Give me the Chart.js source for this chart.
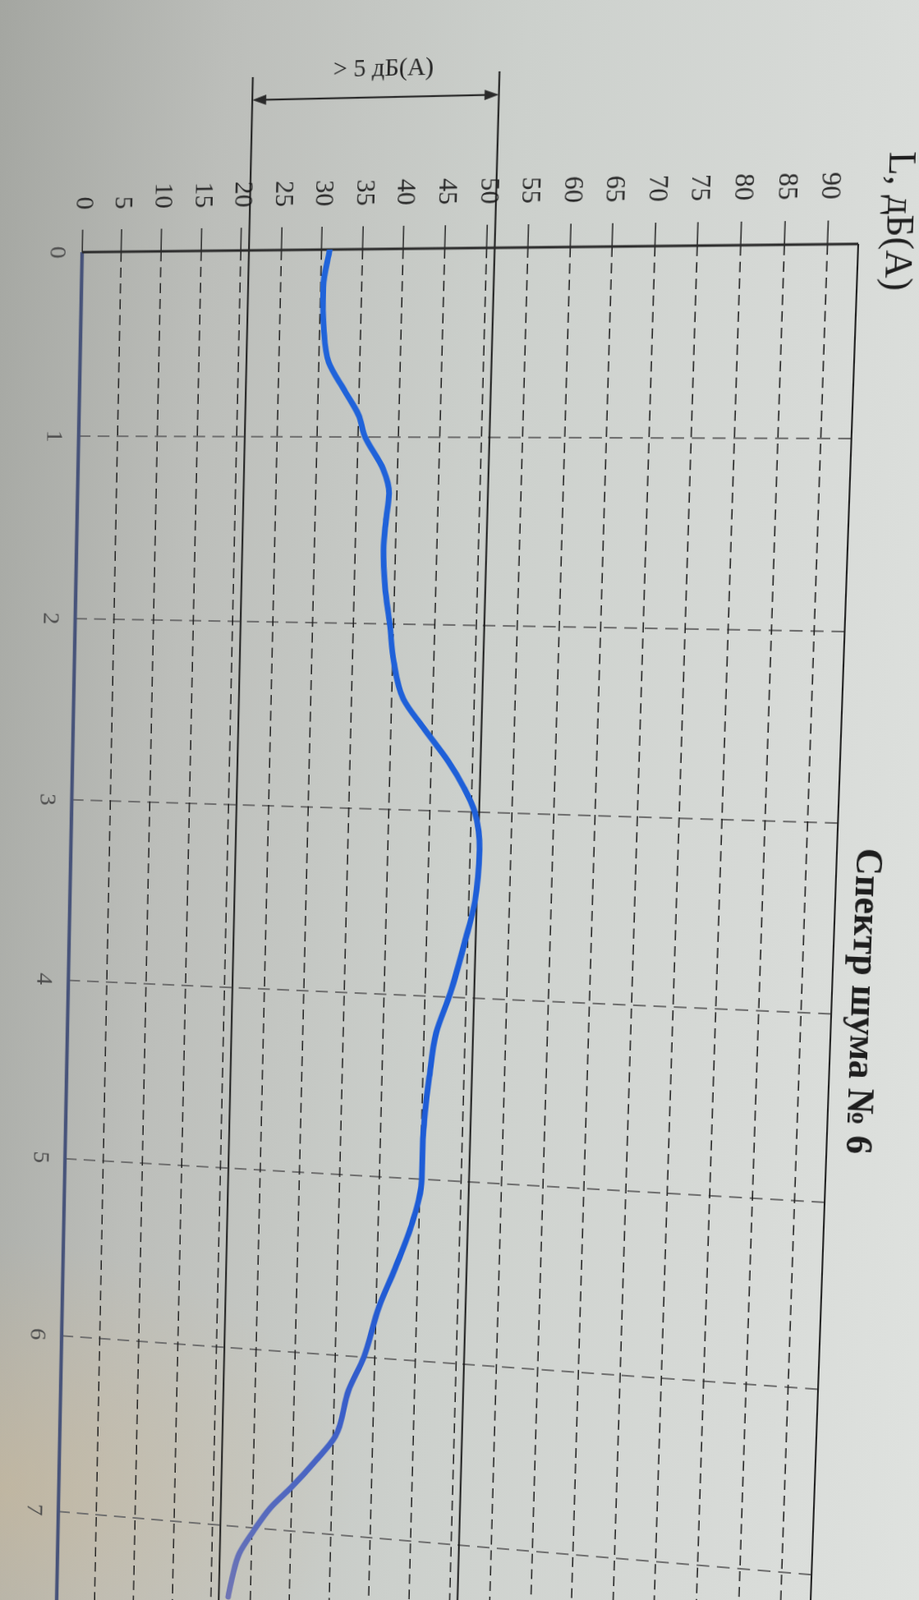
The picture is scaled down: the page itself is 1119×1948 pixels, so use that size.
<!DOCTYPE html>
<html lang="ru">
<head>
<meta charset="utf-8">
<title>Спектр шума № 6</title>
<script src="https://cdn.jsdelivr.net/npm/chart.js@4.4.1/dist/chart.umd.min.js"></script>
<style>
  html, body { margin: 0; padding: 0; overflow: hidden; }
  body {
    width: 1119px; height: 1948px; position: relative;
    background:
      radial-gradient(ellipse 55% 22% at 0% 93%, rgba(205, 184, 148, 0.5), rgba(205, 184, 148, 0) 70%),
      linear-gradient(95deg, #a4a6a1 0%, #bcbeba 22%, #ccd0cc 50%, #d7dad7 80%, #dfe2df 100%);
  }
  /* the sheet is photographed on its side and a little skewed; the transform is set below */
  #chart {
    position: absolute; left: 0; top: 0; width: 2000px; height: 1119px;
    transform-origin: 0 0; transform: translate(1119px, 0) rotate(90deg);
  }
</style>
</head>
<body>
<canvas id="chart" width="2000" height="1119"></canvas>
<script>
const freqs = [0, 0.2, 0.42, 0.6, 0.75, 0.88, 1.0, 1.17, 1.3, 1.45, 1.6, 1.8, 2.0, 2.2, 2.4, 2.55,
  2.73, 2.87, 3.0, 3.2, 3.48, 3.7, 3.98, 4.2, 4.44, 4.64, 4.84, 5.0, 5.24, 5.5, 5.72, 6.0,
  6.19, 6.45, 6.6, 6.75, 6.88, 7.02, 7.15, 7.28, 7.4];
const levels = [31.0, 30.3, 30.5, 31.2, 33.2, 35.0, 35.9, 38.2, 39.0, 38.7, 38.5, 38.8, 39.5, 40.1, 41.4, 43.9,
  47.1, 49.1, 50.5, 51.2, 50.8, 49.7, 48.1, 46.5, 45.8, 45.4, 45.2, 45.2, 44.2, 42.2, 40.3, 38.6,
  36.8, 35.3, 32.8, 30.0, 27.3, 25.2, 23.5, 22.7, 22.2];
const freqTicks = [0, 1, 2, 3, 4, 5, 6, 7];
const levelTicks = [0, 5, 10, 15, 20, 25, 30, 35, 40, 45, 50, 55, 60, 65, 70, 75, 80, 85, 90];
const limitLines = [21, 51];
const limitLabel = "> 5 дБ(А)";
const axisTitle = "L, дБ(А)";
const chartTitle = "Спектр шума № 6";

// where the plot corners sit on the photographed page: [freq, level, pageX, pageY]
const sheetCorners = [
  [0, 0, 100, 307],
  [0, 93.5, 1045, 297],
  [7, 0, 71, 1840],
  [7, 93.5, 988, 1917],
];

const serif = "'Liberation Serif', 'DejaVu Serif', serif";
const canvas = document.getElementById("chart");

const line = (ctx, x1, y1, x2, y2, color, width) => {
  ctx.strokeStyle = color;
  ctx.lineWidth = width;
  ctx.setLineDash([]);
  ctx.beginPath();
  ctx.moveTo(x1, y1);
  ctx.lineTo(x2, y2);
  ctx.stroke();
};

const extras = {
  id: "extras",
  beforeDatasetsDraw(chart) {
    const { ctx, chartArea: a, scales: { x, y } } = chart;
    ctx.save();
    line(ctx, a.left, a.top, a.right, a.top, "#232323", 2);
    limitLines.forEach((v) => {
      const py = y.getPixelForValue(v);
      line(ctx, a.left - 205, py, a.right, py, "#161616", 2);
    });
    const y0 = y.getPixelForValue(0);
    line(ctx, a.left, y0, a.right, y0, "#47537a", 4.5);
    const x0 = x.getPixelForValue(0);
    line(ctx, x0, a.top, x0, a.bottom, "#2b2b2b", 3);
    ctx.restore();
  },
  afterDraw(chart) {
    const { ctx, chartArea: a, scales: { x, y } } = chart;
    ctx.save();
    ctx.fillStyle = "#1e1e1e";
    ctx.textBaseline = "alphabetic";

    ctx.font = "44px " + serif;
    ctx.textAlign = "left";
    ctx.fillText(axisTitle, a.left - 104, a.top - 32);

    ctx.font = "bold 44px " + serif;
    ctx.textAlign = "center";
    ctx.fillText(chartTitle, x.getPixelForValue(3.93), a.top - 23);

    // double arrow between the two limit lines
    const ax = a.left - 178;
    const y1 = y.getPixelForValue(limitLines[0]);
    const y2 = y.getPixelForValue(limitLines[1]);
    line(ctx, ax, y1 - 12, ax, y2 + 12, "#2a2a2a", 2.2);
    ctx.fillStyle = "#2a2a2a";
    ctx.beginPath();
    ctx.moveTo(ax, y1); ctx.lineTo(ax - 6, y1 - 17); ctx.lineTo(ax + 6, y1 - 17);
    ctx.closePath(); ctx.fill();
    ctx.beginPath();
    ctx.moveTo(ax, y2); ctx.lineTo(ax - 6, y2 + 17); ctx.lineTo(ax + 6, y2 + 17);
    ctx.closePath(); ctx.fill();

    ctx.fillStyle = "#262626";
    ctx.translate(a.left - 211, y.getPixelForValue(37));
    ctx.rotate(-Math.PI / 2);
    ctx.font = "30px " + serif;
    ctx.textAlign = "center";
    ctx.textBaseline = "middle";
    ctx.fillText(limitLabel, 0, 0);
    ctx.restore();
  },
};

const chart = new Chart(canvas, {
  type: "line",
  data: {
    datasets: [
      {
        data: freqs.map((f, i) => ({ x: f, y: levels[i] })),
        borderColor: (c) => {
          const { ctx, chartArea } = c.chart;
          if (!chartArea) return "#1f62d8";
          const g = ctx.createLinearGradient(chartArea.left, 0, chartArea.right, 0);
          g.addColorStop(0, "#2064da");
          g.addColorStop(0.72, "#1d5bd6");
          g.addColorStop(0.83, "#3a5ec8");
          g.addColorStop(0.97, "#6f75b4");
          return g;
        },
        borderWidth: 7,
        borderCapStyle: "round",
        borderJoinStyle: "round",
        cubicInterpolationMode: "monotone",
        pointRadius: 0,
        fill: false,
      },
    ],
  },
  options: {
    responsive: false,
    animation: false,
    devicePixelRatio: 1,
    layout: { padding: { left: 185, top: 104, right: 0, bottom: 0 } },
    scales: {
      x: {
        type: "linear",
        min: 0,
        max: 7.63,
        afterBuildTicks: (s) => { s.ticks = freqTicks.map((v) => ({ value: v })); },
        afterFit: (s) => { s.height = 88; },
        grid: { color: "#6e6e6e", lineWidth: 2, drawTicks: false },
        border: { display: false, dash: [15, 9] },
        ticks: {
          padding: 14,
          color: "#4d4d4d",
          font: { family: serif, size: 30 },
          maxRotation: 0,
        },
      },
      y: {
        type: "linear",
        min: 0,
        max: 93.5,
        afterBuildTicks: (s) => { s.ticks = levelTicks.map((v) => ({ value: v })); },
        afterFit: (s) => { s.width = 120; },
        grid: {
          color: "#1c1c1c",
          lineWidth: 1.6,
          drawTicks: true,
          tickLength: 27,
          tickColor: "#262626",
          tickWidth: 1.5,
          tickBorderDash: [],
        },
        border: { display: false, dash: [12, 7] },
        ticks: {
          padding: 24,
          color: "#2b2b2b",
          font: { family: serif, size: 31 },
        },
      },
    },
    plugins: {
      legend: { display: false },
      title: { display: false },
      tooltip: { enabled: false },
    },
  },
  plugins: [extras],
});

// projective map from canvas pixels to the page, fitted on the four plot corners
const solveHomography = (src, dst) => {
  const A = [];
  src.forEach(([x, y], i) => {
    const [u, v] = dst[i];
    A.push([x, y, 1, 0, 0, 0, -x * u, -y * u, u]);
    A.push([0, 0, 0, x, y, 1, -x * v, -y * v, v]);
  });
  const n = 8;
  for (let c = 0; c < n; c++) {
    let p = c;
    for (let r = c + 1; r < n; r++) if (Math.abs(A[r][c]) > Math.abs(A[p][c])) p = r;
    [A[c], A[p]] = [A[p], A[c]];
    for (let r = 0; r < n; r++) {
      if (r === c) continue;
      const k = A[r][c] / A[c][c];
      for (let j = c; j <= n; j++) A[r][j] -= k * A[c][j];
    }
  }
  return A.map((row, i) => row[n] / row[i]);
};

const fitSheet = () => {
  const { x, y } = chart.scales;
  const src = sheetCorners.map(([f, v]) => [x.getPixelForValue(f), y.getPixelForValue(v)]);
  const dst = sheetCorners.map(([, , px, py]) => [px, py]);
  const h = solveHomography(src, dst);
  canvas.style.transform =
    `matrix3d(${h[0]},${h[3]},0,${h[6]},${h[1]},${h[4]},0,${h[7]},0,0,1,0,${h[2]},${h[5]},0,1)`;
};
fitSheet();
</script>
</body>
</html>
